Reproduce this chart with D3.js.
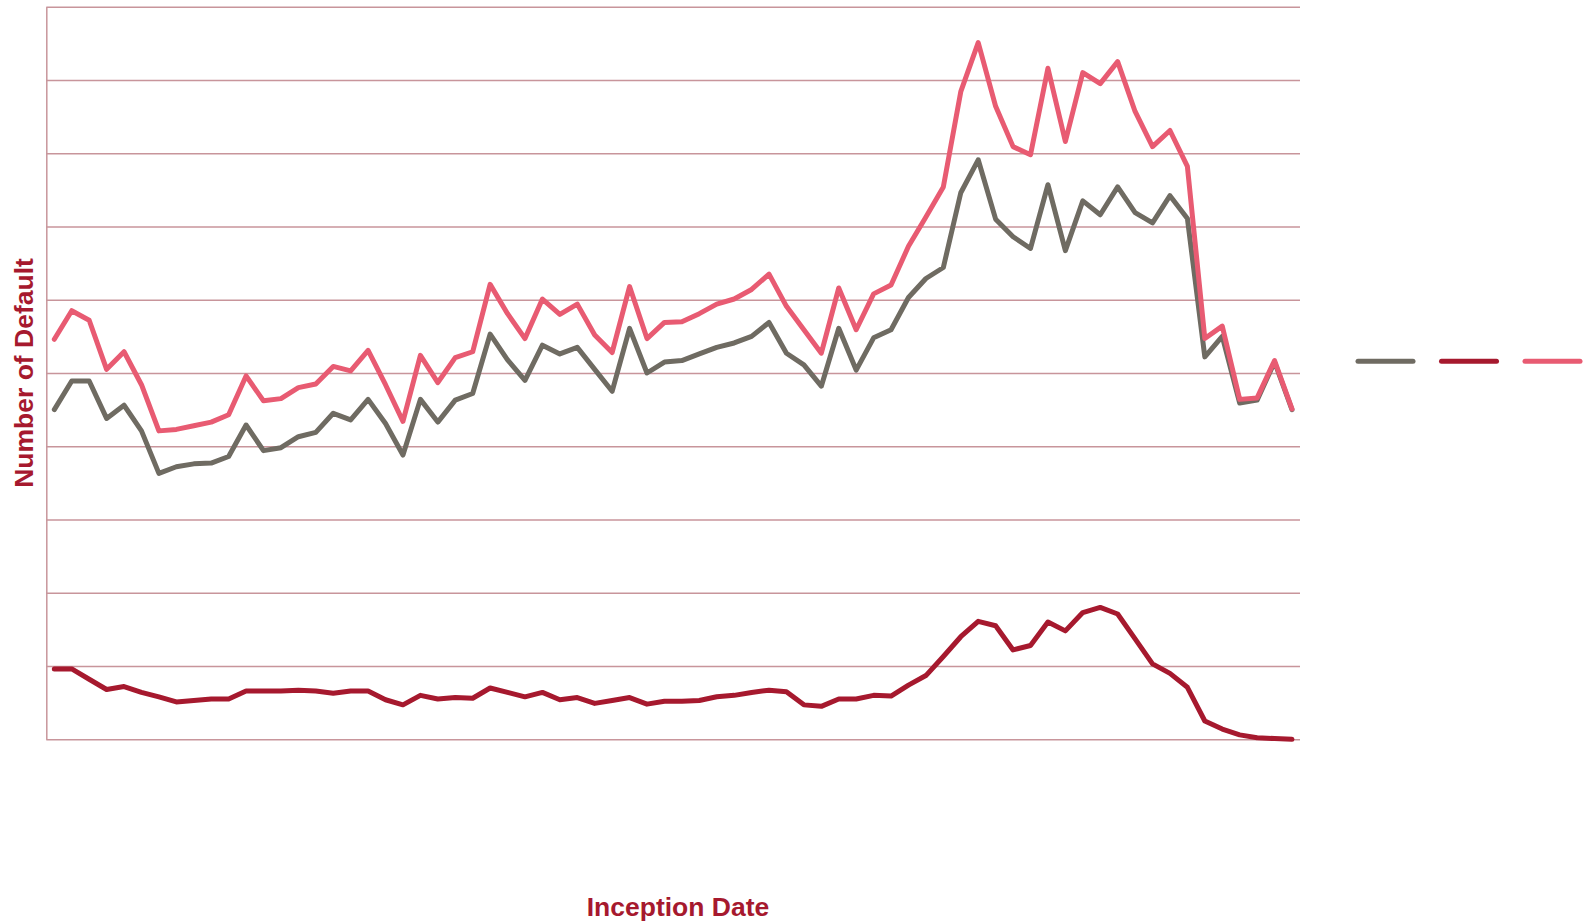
<!DOCTYPE html>
<html>
<head>
<meta charset="utf-8">
<script src="https://cdn.jsdelivr.net/npm/d3@7/dist/d3.min.js"></script>
<style>
  html, body { margin: 0; padding: 0; background: #ffffff; }
  svg { display: block; }
</style>
</head>
<body>
<svg id="chart" width="1585" height="922"></svg>
<script>
// Quarterly inception periods (72 quarters)
const quarters = [];
for (let y = 1992; y <= 2009; y++) for (let q = 1; q <= 4; q++) quarters.push(y + " Q" + q);

// Number of defaults per inception quarter, three series
const seriesGray = [450, 489, 489, 438, 456, 421, 363, 372, 376, 377, 386, 429, 394, 398, 413, 419, 445, 436,
  464, 431, 388, 464, 433, 463, 472, 553, 518, 490, 538, 526, 535, 505, 475, 561, 500, 515, 517, 526,
  535, 541, 550, 569, 527, 511, 482, 561, 504, 548, 559, 603, 629, 644, 746, 791, 710, 686, 670, 757,
  667, 735, 716, 754, 719, 705, 742, 711, 522, 550, 459, 463, 515, 450];

const seriesDarkRed = [96, 96, 82, 68, 72, 64, 58, 51, 53, 55, 55, 66, 66, 66, 67, 66, 63, 66,
  66, 54, 47, 60, 55, 57, 56, 70, 64, 58, 64, 54, 57, 49, 53, 57, 48, 52, 52, 53,
  58, 60, 64, 67, 65, 47, 45, 55, 55, 60, 59, 74, 87, 113, 140, 161, 155, 122, 128, 160,
  148, 173, 180, 171, 137, 103, 90, 71, 25, 14, 6, 2, 1, 0];

const seriesPink = [546, 585, 572, 505, 529, 484, 421, 423, 428, 433, 443, 496, 462, 465, 480, 485, 509, 503,
  531, 484, 434, 524, 487, 521, 529, 621, 581, 547, 601, 580, 594, 552, 528, 618, 547, 569, 570, 581,
  594, 601, 614, 635, 591, 559, 527, 616, 559, 608, 620, 673, 713, 754, 884, 951, 864, 809, 798, 916,
  816, 910, 895, 925, 857, 809, 831, 782, 547, 564, 464, 466, 517, 451];

// Value axis gridline positions
const yTicks = d3.range(0, 1001, 100);

const colors = { gray: "#6f6b62", darkRed: "#a6192e", pink: "#e85b72" };
const gridColor = "#c8959b";
const titleColor = "#a6192e";

const svg = d3.select("#chart");
const plot = { left: 46.3, right: 1300, top: 6.7, bottom: 739.3 };

const x = d3.scalePoint().domain(quarters).range([plot.left, plot.right]).padding(0.46);
const y = d3.scaleLinear().domain([0, 1000]).range([plot.bottom, plot.top]);

// Horizontal gridlines through the y axis generator
const yAxis = d3.axisLeft(y).tickValues(yTicks)
  .tickSize(-(plot.right - plot.left)).tickSizeOuter(0).tickFormat("");
const gAxis = svg.append("g").attr("transform", `translate(${plot.left},0)`).call(yAxis);
gAxis.select(".domain").attr("stroke", gridColor).attr("stroke-width", 1.5);
gAxis.selectAll(".tick line").attr("stroke", gridColor).attr("stroke-width", 1.5);

const line = d3.line().x((d, i) => x(quarters[i])).y(d => y(d));

const series = [
  { values: seriesGray, color: colors.gray },
  { values: seriesDarkRed, color: colors.darkRed },
  { values: seriesPink, color: colors.pink }
];

svg.append("g").selectAll("path").data(series).join("path")
  .attr("d", d => line(d.values))
  .attr("fill", "none")
  .attr("stroke", d => d.color)
  .attr("stroke-width", 5)
  .attr("stroke-linejoin", "round")
  .attr("stroke-linecap", "round");

// Legend swatches
const legend = svg.append("g").attr("transform", "translate(1358,361.3)");
legend.selectAll("line").data(series).join("line")
  .attr("x1", (d, i) => i * 83.5)
  .attr("x2", (d, i) => i * 83.5 + 55)
  .attr("y1", 0).attr("y2", 0)
  .attr("stroke", d => d.color)
  .attr("stroke-width", 5)
  .attr("stroke-linecap", "round");

// Axis titles
svg.append("text")
  .attr("transform", `translate(33,${(plot.top + plot.bottom) / 2}) rotate(-90)`)
  .attr("text-anchor", "middle")
  .attr("font-family", "Liberation Sans, Arial, sans-serif")
  .attr("font-weight", "bold")
  .attr("font-size", 26.5)
  .attr("fill", titleColor)
  .text("Number of Default");

svg.append("text")
  .attr("x", 678)
  .attr("y", 916)
  .attr("text-anchor", "middle")
  .attr("font-family", "Liberation Sans, Arial, sans-serif")
  .attr("font-weight", "bold")
  .attr("font-size", 26.5)
  .attr("fill", titleColor)
  .text("Inception Date");
</script>
</body>
</html>
